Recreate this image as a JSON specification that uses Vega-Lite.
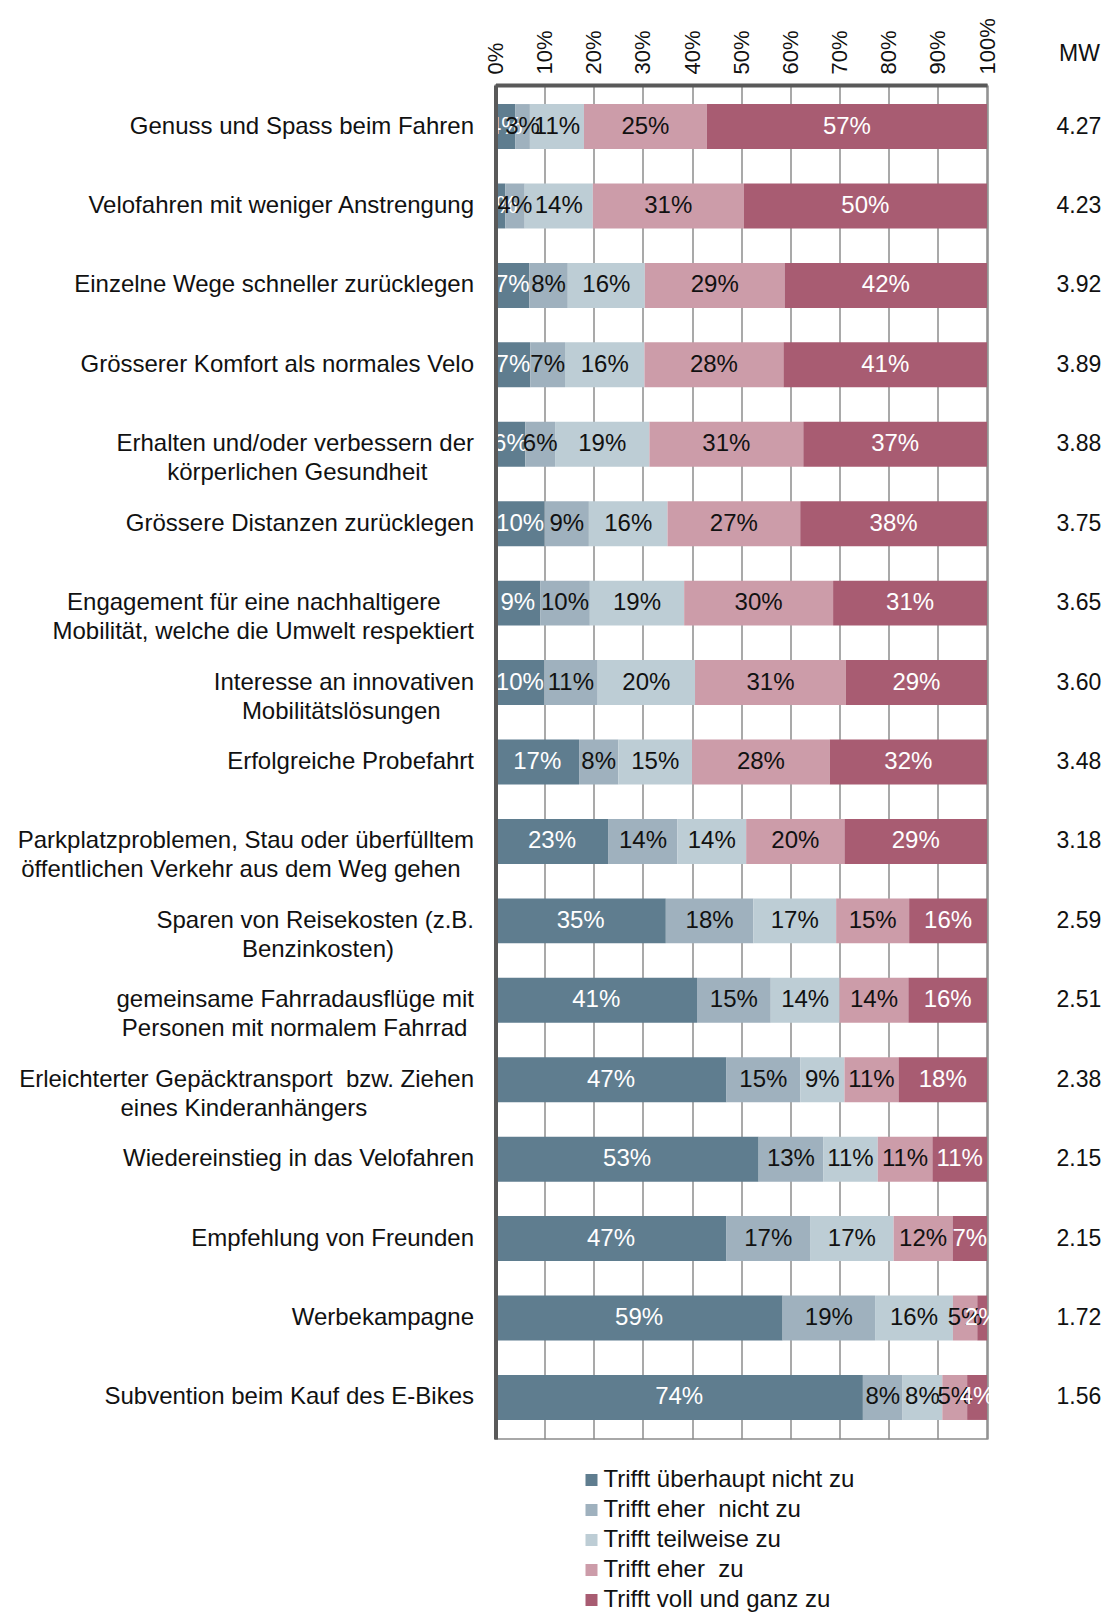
{
  "$schema": "https://vega.github.io/schema/vega-lite/v6.json",
  "width": 491.5,
  "height": 1354,
  "autosize": "none",
  "padding": {"left": 495.5, "top": 85, "right": 119, "bottom": 173},
  "background": "white",
  "config": {
    "font": "Liberation Sans",
    "view": {"stroke": "#8c8c8c", "strokeWidth": 1.5}
  },
  "datasets": {
    "resp": [
      {"q": "Genuss und Spass beim Fahren", "k": 1, "r": "Trifft überhaupt nicht zu", "v": 0.04},
      {"q": "Genuss und Spass beim Fahren", "k": 2, "r": "Trifft eher  nicht zu", "v": 0.03},
      {"q": "Genuss und Spass beim Fahren", "k": 3, "r": "Trifft teilweise zu", "v": 0.11},
      {"q": "Genuss und Spass beim Fahren", "k": 4, "r": "Trifft eher  zu", "v": 0.25},
      {"q": "Genuss und Spass beim Fahren", "k": 5, "r": "Trifft voll und ganz zu", "v": 0.57},
      {"q": "Velofahren mit weniger Anstrengung", "k": 1, "r": "Trifft überhaupt nicht zu", "v": 0.02},
      {"q": "Velofahren mit weniger Anstrengung", "k": 2, "r": "Trifft eher  nicht zu", "v": 0.04},
      {"q": "Velofahren mit weniger Anstrengung", "k": 3, "r": "Trifft teilweise zu", "v": 0.14},
      {"q": "Velofahren mit weniger Anstrengung", "k": 4, "r": "Trifft eher  zu", "v": 0.31},
      {"q": "Velofahren mit weniger Anstrengung", "k": 5, "r": "Trifft voll und ganz zu", "v": 0.50},
      {"q": "Einzelne Wege schneller zurücklegen", "k": 1, "r": "Trifft überhaupt nicht zu", "v": 0.07},
      {"q": "Einzelne Wege schneller zurücklegen", "k": 2, "r": "Trifft eher  nicht zu", "v": 0.08},
      {"q": "Einzelne Wege schneller zurücklegen", "k": 3, "r": "Trifft teilweise zu", "v": 0.16},
      {"q": "Einzelne Wege schneller zurücklegen", "k": 4, "r": "Trifft eher  zu", "v": 0.29},
      {"q": "Einzelne Wege schneller zurücklegen", "k": 5, "r": "Trifft voll und ganz zu", "v": 0.42},
      {"q": "Grösserer Komfort als normales Velo", "k": 1, "r": "Trifft überhaupt nicht zu", "v": 0.07},
      {"q": "Grösserer Komfort als normales Velo", "k": 2, "r": "Trifft eher  nicht zu", "v": 0.07},
      {"q": "Grösserer Komfort als normales Velo", "k": 3, "r": "Trifft teilweise zu", "v": 0.16},
      {"q": "Grösserer Komfort als normales Velo", "k": 4, "r": "Trifft eher  zu", "v": 0.28},
      {"q": "Grösserer Komfort als normales Velo", "k": 5, "r": "Trifft voll und ganz zu", "v": 0.41},
      {"q": "Erhalten und/oder verbessern der|körperlichen Gesundheit", "k": 1, "r": "Trifft überhaupt nicht zu", "v": 0.06},
      {"q": "Erhalten und/oder verbessern der|körperlichen Gesundheit", "k": 2, "r": "Trifft eher  nicht zu", "v": 0.06},
      {"q": "Erhalten und/oder verbessern der|körperlichen Gesundheit", "k": 3, "r": "Trifft teilweise zu", "v": 0.19},
      {"q": "Erhalten und/oder verbessern der|körperlichen Gesundheit", "k": 4, "r": "Trifft eher  zu", "v": 0.31},
      {"q": "Erhalten und/oder verbessern der|körperlichen Gesundheit", "k": 5, "r": "Trifft voll und ganz zu", "v": 0.37},
      {"q": "Grössere Distanzen zurücklegen", "k": 1, "r": "Trifft überhaupt nicht zu", "v": 0.10},
      {"q": "Grössere Distanzen zurücklegen", "k": 2, "r": "Trifft eher  nicht zu", "v": 0.09},
      {"q": "Grössere Distanzen zurücklegen", "k": 3, "r": "Trifft teilweise zu", "v": 0.16},
      {"q": "Grössere Distanzen zurücklegen", "k": 4, "r": "Trifft eher  zu", "v": 0.27},
      {"q": "Grössere Distanzen zurücklegen", "k": 5, "r": "Trifft voll und ganz zu", "v": 0.38},
      {"q": "Engagement für eine nachhaltigere|Mobilität, welche die Umwelt respektiert", "k": 1, "r": "Trifft überhaupt nicht zu", "v": 0.09},
      {"q": "Engagement für eine nachhaltigere|Mobilität, welche die Umwelt respektiert", "k": 2, "r": "Trifft eher  nicht zu", "v": 0.10},
      {"q": "Engagement für eine nachhaltigere|Mobilität, welche die Umwelt respektiert", "k": 3, "r": "Trifft teilweise zu", "v": 0.19},
      {"q": "Engagement für eine nachhaltigere|Mobilität, welche die Umwelt respektiert", "k": 4, "r": "Trifft eher  zu", "v": 0.30},
      {"q": "Engagement für eine nachhaltigere|Mobilität, welche die Umwelt respektiert", "k": 5, "r": "Trifft voll und ganz zu", "v": 0.31},
      {"q": "Interesse an innovativen|Mobilitätslösungen", "k": 1, "r": "Trifft überhaupt nicht zu", "v": 0.10},
      {"q": "Interesse an innovativen|Mobilitätslösungen", "k": 2, "r": "Trifft eher  nicht zu", "v": 0.11},
      {"q": "Interesse an innovativen|Mobilitätslösungen", "k": 3, "r": "Trifft teilweise zu", "v": 0.20},
      {"q": "Interesse an innovativen|Mobilitätslösungen", "k": 4, "r": "Trifft eher  zu", "v": 0.31},
      {"q": "Interesse an innovativen|Mobilitätslösungen", "k": 5, "r": "Trifft voll und ganz zu", "v": 0.29},
      {"q": "Erfolgreiche Probefahrt", "k": 1, "r": "Trifft überhaupt nicht zu", "v": 0.17},
      {"q": "Erfolgreiche Probefahrt", "k": 2, "r": "Trifft eher  nicht zu", "v": 0.08},
      {"q": "Erfolgreiche Probefahrt", "k": 3, "r": "Trifft teilweise zu", "v": 0.15},
      {"q": "Erfolgreiche Probefahrt", "k": 4, "r": "Trifft eher  zu", "v": 0.28},
      {"q": "Erfolgreiche Probefahrt", "k": 5, "r": "Trifft voll und ganz zu", "v": 0.32},
      {"q": "Parkplatzproblemen, Stau oder überfülltem|öffentlichen Verkehr aus dem Weg gehen", "k": 1, "r": "Trifft überhaupt nicht zu", "v": 0.23},
      {"q": "Parkplatzproblemen, Stau oder überfülltem|öffentlichen Verkehr aus dem Weg gehen", "k": 2, "r": "Trifft eher  nicht zu", "v": 0.14},
      {"q": "Parkplatzproblemen, Stau oder überfülltem|öffentlichen Verkehr aus dem Weg gehen", "k": 3, "r": "Trifft teilweise zu", "v": 0.14},
      {"q": "Parkplatzproblemen, Stau oder überfülltem|öffentlichen Verkehr aus dem Weg gehen", "k": 4, "r": "Trifft eher  zu", "v": 0.20},
      {"q": "Parkplatzproblemen, Stau oder überfülltem|öffentlichen Verkehr aus dem Weg gehen", "k": 5, "r": "Trifft voll und ganz zu", "v": 0.29},
      {"q": "Sparen von Reisekosten (z.B.|Benzinkosten)", "k": 1, "r": "Trifft überhaupt nicht zu", "v": 0.35},
      {"q": "Sparen von Reisekosten (z.B.|Benzinkosten)", "k": 2, "r": "Trifft eher  nicht zu", "v": 0.18},
      {"q": "Sparen von Reisekosten (z.B.|Benzinkosten)", "k": 3, "r": "Trifft teilweise zu", "v": 0.17},
      {"q": "Sparen von Reisekosten (z.B.|Benzinkosten)", "k": 4, "r": "Trifft eher  zu", "v": 0.15},
      {"q": "Sparen von Reisekosten (z.B.|Benzinkosten)", "k": 5, "r": "Trifft voll und ganz zu", "v": 0.16},
      {"q": "gemeinsame Fahrradausflüge mit|Personen mit normalem Fahrrad", "k": 1, "r": "Trifft überhaupt nicht zu", "v": 0.41},
      {"q": "gemeinsame Fahrradausflüge mit|Personen mit normalem Fahrrad", "k": 2, "r": "Trifft eher  nicht zu", "v": 0.15},
      {"q": "gemeinsame Fahrradausflüge mit|Personen mit normalem Fahrrad", "k": 3, "r": "Trifft teilweise zu", "v": 0.14},
      {"q": "gemeinsame Fahrradausflüge mit|Personen mit normalem Fahrrad", "k": 4, "r": "Trifft eher  zu", "v": 0.14},
      {"q": "gemeinsame Fahrradausflüge mit|Personen mit normalem Fahrrad", "k": 5, "r": "Trifft voll und ganz zu", "v": 0.16},
      {"q": "Erleichterter Gepäcktransport  bzw. Ziehen|eines Kinderanhängers", "k": 1, "r": "Trifft überhaupt nicht zu", "v": 0.47},
      {"q": "Erleichterter Gepäcktransport  bzw. Ziehen|eines Kinderanhängers", "k": 2, "r": "Trifft eher  nicht zu", "v": 0.15},
      {"q": "Erleichterter Gepäcktransport  bzw. Ziehen|eines Kinderanhängers", "k": 3, "r": "Trifft teilweise zu", "v": 0.09},
      {"q": "Erleichterter Gepäcktransport  bzw. Ziehen|eines Kinderanhängers", "k": 4, "r": "Trifft eher  zu", "v": 0.11},
      {"q": "Erleichterter Gepäcktransport  bzw. Ziehen|eines Kinderanhängers", "k": 5, "r": "Trifft voll und ganz zu", "v": 0.18},
      {"q": "Wiedereinstieg in das Velofahren", "k": 1, "r": "Trifft überhaupt nicht zu", "v": 0.53},
      {"q": "Wiedereinstieg in das Velofahren", "k": 2, "r": "Trifft eher  nicht zu", "v": 0.13},
      {"q": "Wiedereinstieg in das Velofahren", "k": 3, "r": "Trifft teilweise zu", "v": 0.11},
      {"q": "Wiedereinstieg in das Velofahren", "k": 4, "r": "Trifft eher  zu", "v": 0.11},
      {"q": "Wiedereinstieg in das Velofahren", "k": 5, "r": "Trifft voll und ganz zu", "v": 0.11},
      {"q": "Empfehlung von Freunden", "k": 1, "r": "Trifft überhaupt nicht zu", "v": 0.47},
      {"q": "Empfehlung von Freunden", "k": 2, "r": "Trifft eher  nicht zu", "v": 0.17},
      {"q": "Empfehlung von Freunden", "k": 3, "r": "Trifft teilweise zu", "v": 0.17},
      {"q": "Empfehlung von Freunden", "k": 4, "r": "Trifft eher  zu", "v": 0.12},
      {"q": "Empfehlung von Freunden", "k": 5, "r": "Trifft voll und ganz zu", "v": 0.07},
      {"q": "Werbekampagne", "k": 1, "r": "Trifft überhaupt nicht zu", "v": 0.59},
      {"q": "Werbekampagne", "k": 2, "r": "Trifft eher  nicht zu", "v": 0.19},
      {"q": "Werbekampagne", "k": 3, "r": "Trifft teilweise zu", "v": 0.16},
      {"q": "Werbekampagne", "k": 4, "r": "Trifft eher  zu", "v": 0.05},
      {"q": "Werbekampagne", "k": 5, "r": "Trifft voll und ganz zu", "v": 0.02},
      {"q": "Subvention beim Kauf des E-Bikes", "k": 1, "r": "Trifft überhaupt nicht zu", "v": 0.74},
      {"q": "Subvention beim Kauf des E-Bikes", "k": 2, "r": "Trifft eher  nicht zu", "v": 0.08},
      {"q": "Subvention beim Kauf des E-Bikes", "k": 3, "r": "Trifft teilweise zu", "v": 0.08},
      {"q": "Subvention beim Kauf des E-Bikes", "k": 4, "r": "Trifft eher  zu", "v": 0.05},
      {"q": "Subvention beim Kauf des E-Bikes", "k": 5, "r": "Trifft voll und ganz zu", "v": 0.04}
    ],
    "mw": [
      {"q": "Genuss und Spass beim Fahren", "mw": "4.27"},
      {"q": "Velofahren mit weniger Anstrengung", "mw": "4.23"},
      {"q": "Einzelne Wege schneller zurücklegen", "mw": "3.92"},
      {"q": "Grösserer Komfort als normales Velo", "mw": "3.89"},
      {"q": "Erhalten und/oder verbessern der|körperlichen Gesundheit", "mw": "3.88"},
      {"q": "Grössere Distanzen zurücklegen", "mw": "3.75"},
      {"q": "Engagement für eine nachhaltigere|Mobilität, welche die Umwelt respektiert", "mw": "3.65"},
      {"q": "Interesse an innovativen|Mobilitätslösungen", "mw": "3.60"},
      {"q": "Erfolgreiche Probefahrt", "mw": "3.48"},
      {"q": "Parkplatzproblemen, Stau oder überfülltem|öffentlichen Verkehr aus dem Weg gehen", "mw": "3.18"},
      {"q": "Sparen von Reisekosten (z.B.|Benzinkosten)", "mw": "2.59"},
      {"q": "gemeinsame Fahrradausflüge mit|Personen mit normalem Fahrrad", "mw": "2.51"},
      {"q": "Erleichterter Gepäcktransport  bzw. Ziehen|eines Kinderanhängers", "mw": "2.38"},
      {"q": "Wiedereinstieg in das Velofahren", "mw": "2.15"},
      {"q": "Empfehlung von Freunden", "mw": "2.15"},
      {"q": "Werbekampagne", "mw": "1.72"},
      {"q": "Subvention beim Kauf des E-Bikes", "mw": "1.56"}
    ]
  },
  "layer": [
    {
      "data": {"name": "resp"},
      "mark": {"type": "bar"},
      "encoding": {
        "y": {
          "field": "q", "type": "nominal", "sort": null,
          "scale": {"paddingInner": 0.434, "paddingOuter": 0.24},
          "axis": {
            "title": null, "domainColor": "#595959", "domainWidth": 4, "ticks": false,
            "labelFontSize": 24, "labelColor": "#111111", "labelLimit": 700, "labelPadding": 22,
            "labelExpr": "indexof(datum.label, '|') < 0 ? datum.label : [pad(replace(split(datum.label, '|')[0], '  ', ' \u00a0'), length(split(datum.label, '|')[0]) + max(0, round(0.78 * (length(split(datum.label, '|')[1]) - length(split(datum.label, '|')[0])))), '\u00a0') + '\u200b', pad(split(datum.label, '|')[1], length(split(datum.label, '|')[1]) + max(0, round(0.78 * (length(split(datum.label, '|')[0]) - length(split(datum.label, '|')[1])))), '\u00a0') + '\u200b']",
            "labelLineHeight": 29, "zindex": 1, "grid": false
          }
        },
        "x": {
          "field": "v", "type": "quantitative", "stack": "normalize",
          "scale": {"domain": [0, 1]},
          "axis": {
            "orient": "top", "values": [0, 0.1, 0.2, 0.3, 0.4, 0.5, 0.6, 0.7, 0.8, 0.9, 1],
            "format": ".0%", "labelAngle": -90, "labelAlign": "left", "labelBaseline": "middle",
            "labelFontSize": 22, "labelColor": "#111111", "labelPadding": 11, "ticks": false,
            "domainColor": "#595959", "domainWidth": 4,
            "grid": true, "gridColor": "#8c8c8c", "gridWidth": 1.5,
            "title": "MW", "titleX": 583.5, "titleY": -32, "titleAngle": 0, "titleAlign": "center",
            "titleBaseline": "middle", "titleFontSize": 23, "titleFontWeight": "normal", "titleColor": "#111111",
            "zindex": 0
          }
        },
        "color": {
          "field": "r", "type": "nominal",
          "scale": {
            "domain": ["Trifft überhaupt nicht zu", "Trifft eher  nicht zu", "Trifft teilweise zu", "Trifft eher  zu", "Trifft voll und ganz zu"],
            "range": ["#5f7d8f", "#9fb1be", "#bdcdd5", "#cc9ca9", "#a85c72"]
          },
          "legend": {
            "orient": "none", "legendX": 84, "legendY": 1383, "title": null, "direction": "vertical",
            "labelFontSize": 24, "labelColor": "#111111", "symbolType": "square", "symbolSize": 144,
            "symbolStrokeWidth": 0, "rowPadding": 6, "labelOffset": 0, "labelLimit": 400,
            "labelExpr": "replace(datum.label, '  ', ' \u00a0')"
          }
        },
        "order": {"field": "k", "type": "quantitative"}
      }
    },
    {
      "data": {"name": "resp"},
      "mark": {"type": "text", "fontSize": 24, "baseline": "middle", "align": "center"},
      "encoding": {
        "y": {"field": "q", "type": "nominal", "sort": null},
        "x": {"field": "v", "type": "quantitative", "stack": "normalize", "bandPosition": 0.5},
        "detail": {"field": "k", "type": "nominal"},
        "order": {"field": "k", "type": "quantitative"},
        "text": {"field": "v", "type": "quantitative", "format": ".0%"},
        "color": {"condition": {"test": "datum.k === 1 || datum.k === 5", "value": "white"}, "value": "#111111"}
      }
    },
    {
      "data": {"name": "mw"},
      "mark": {"type": "text", "fontSize": 23, "align": "center", "baseline": "middle", "color": "#111111"},
      "encoding": {
        "y": {"field": "q", "type": "nominal", "sort": null},
        "x": {"datum": 1.187, "type": "quantitative"},
        "text": {"field": "mw", "type": "nominal"}
      }
    }
  ]
}
